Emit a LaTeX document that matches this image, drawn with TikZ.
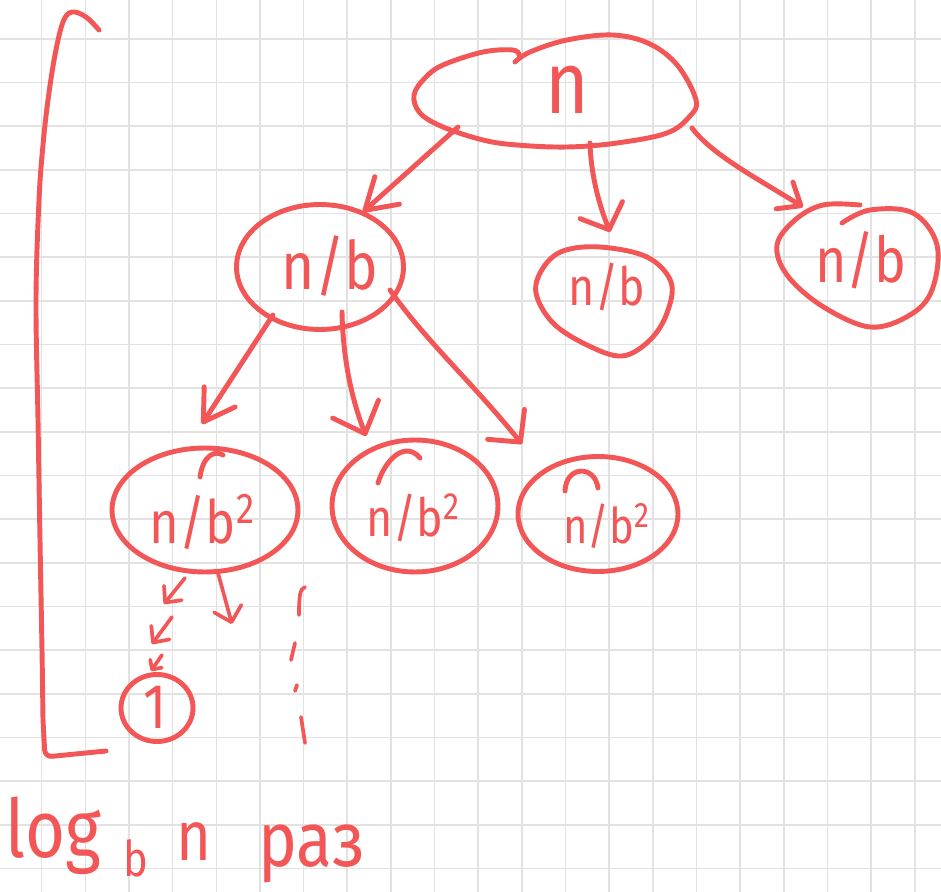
\documentclass[tikz,border=0pt]{standalone}
\usepackage{fontspec}
\setmainfont{Fira Sans}
\newfontfamily\hand[FakeStretch=0.85]{Fira Sans}
\usetikzlibrary{arrows.meta,shapes.geometric,calc}
\definecolor{inkred}{HTML}{F25656}
\definecolor{gridgray}{HTML}{E2E2E2}
% raised "2" of the exponent
\newcommand\sqr{\raisebox{0.32em}{\scalebox{0.72}{2}}}
\newcommand\fs[1]{\hand\fontsize{#1pt}{#1pt}\selectfont}

\begin{document}
\begin{tikzpicture}[x=0.02cm,y=-0.02cm,
  ink/.style={draw=inkred, line width=2.8pt, line cap=round, line join=round},
  thin ink/.style={ink, line width=2.1pt},
  blob/.style={ellipse, ink, inner sep=0pt},
  holder/.style={ellipse, draw=none, inner sep=0pt},
  lbl/.style={text=inkred, inner sep=0pt},
  gridline/.style={draw=gridgray, line width=0.9pt},
  hd/.style 2 args={-{Straight Barb[length=#1,width=#2,round]}},
]
% paper and squared grid
\useasboundingbox (0,0) rectangle (941,892);
\fill[white] (0,0) rectangle (941,892);
\foreach \i in {1,...,21}
  \draw[gridline] ({-2+43.66*\i},0) -- ({-2+43.66*\i},892);
\foreach \j in {1,...,20}
  \draw[gridline] (0,{-4.7+43.66*\j}) -- (941,{-4.7+43.66*\j});

% ---- root n
\node[holder, minimum width=5.6cm, minimum height=2.2cm] (top) at (555,92) {};
\draw[ink] plot[smooth, tension=0.6] coordinates {
  (515,62) (530,52) (567,40) (613,35) (650,44) (678,66) (696,100)
  (690,116) (667,133) (617,143) (567,147) (517,145) (483,140) (443,127)
  (420,113) (414,95) (425,78) (443,65) (483,52) (513,50) (519,55)};
\node[lbl, font=\fs{50}] (tTop) at (567,90) {n};

% ---- level 1
\node[blob, minimum width=3.34cm, minimum height=2.5cm] (nbL) at (320,267) {};
\node[lbl, font=\fs{38}] (tNbL) at (330,266) {n/b};

\node[holder, minimum width=2.74cm, minimum height=2.16cm] (nbM) at (604,301) {};
\draw[ink] plot[smooth cycle, tension=0.6] coordinates {
  (563,251) (600,247) (647,257) (671,282) (667,313) (650,340) (622,356)
  (587,345) (553,323) (536,293) (543,268)};
\node[lbl, font=\fs{30}] (tNbM) at (607,287) {n/b};

\node[holder, minimum width=3.2cm, minimum height=2.44cm] (nbR) at (858,266) {};
\draw[ink] plot[smooth, tension=0.6] coordinates {
  (842,223) (870,210) (913,213) (937,245) (932,290) (910,315) (870,327)
  (822,306) (787,275) (777,245) (795,220) (823,205) (860,205)};
\node[lbl, font=\fs{36}] (tNbR) at (861,260) {n/b};

% ---- level 2
\node[blob, minimum width=3.72cm, minimum height=2.48cm] (n2L) at (205,510) {};
\node[lbl, font=\fs{34}] (tN2L) at (202,522) {n/b\sqr};
\node[blob, minimum width=3.32cm, minimum height=2.64cm] (n2M) at (415,506) {};
\node[lbl, font=\fs{30}] (tN2M) at (413,518) {n/b\sqr};
\node[blob, minimum width=3.2cm, minimum height=2.3cm] (n2R) at (598,514) {};
\node[lbl, font=\fs{28}] (tN2R) at (606,526) {n/b\sqr};

% pen marks on top of the level-2 outlines
\draw[ink] ($(n2L)+(-5,-33)$) .. controls ($(n2L)+(-2,-55)$) and ($(n2L)+(10,-60)$) .. ($(n2L)+(18,-55)$);
\draw[ink] ($(n2M)+(-37,-23)$) .. controls ($(n2M)+(-30,-46)$) and ($(n2M)+(-10,-66)$) .. ($(n2M)+(5,-48)$);
\draw[ink] ($(n2R)+(-33,-23)$) .. controls ($(n2R)+(-32,-49)$) and ($(n2R)+(-3,-49)$) .. ($(n2R)+(0,-26)$);

% ---- leaf 1
\node[blob, minimum width=1.44cm, minimum height=1.34cm] (one) at (157,708) {};
\node[lbl, font=\fs{36}] (tOne) at (155,707) {1};

% ---- arrows from the root
\draw[ink, hd={17pt}{21pt}] ($(top)+(-97,35)$) -- ($(nbL)+(43,-55)$);
\draw[ink, hd={12pt}{26pt}] ($(top)+(35,51)$) .. controls ($(top)+(36,85)$) and ($(top)+(45,115)$) .. ($(nbM)+(6,-69)$);
\draw[ink, hd={11pt}{18pt}] ($(top)+(137,36)$) .. controls ($(top)+(157,63)$) and ($(top)+(205,88)$) .. ($(nbR)+(-55,-59)$);

% ---- arrows from n/b
\draw[ink, hd={17pt}{21pt}] ($(nbL)+(-47,48)$) -- ($(n2L)+(-3,-86)$);
\draw[ink, hd={15pt}{28pt}] ($(nbL)+(22,45)$) .. controls ($(nbL)+(23,93)$) and ($(nbL)+(32,133)$) .. ($(n2M)+(-49,-70)$);
\draw[ink, hd={13pt}{27pt}] ($(nbL)+(70,23)$) .. controls ($(nbL)+(105,73)$) and ($(nbL)+(150,113)$) .. ($(n2R)+(-76,-70)$);

% ---- dashed descent down to 1
\draw[thin ink, hd={7pt}{13pt}] ($(n2L)+(-20,68)$) -- ($(n2L)+(-41,94)$);
\draw[thin ink, hd={7pt}{13pt}] ($(n2L)+(-33,107)$) -- ($(n2L)+(-53,134)$);
\draw[thin ink, hd={4pt}{8pt}] ($(one)+(5,-53)$) -- ($(one)+(-6,-37)$);

\coordinate (stub) at (232,624);
\draw[thin ink, hd={8pt}{16pt}] ($(n2L)+(13,63)$) -- (stub);

% dotted continuation of the other branches
\coordinate (dTop) at (305,587);
\coordinate (dBot) at (305,743);
\draw[thin ink] (dTop) .. controls (300,589) and (299,595) .. (299,615);
\draw[thin ink] (295,643) -- (291,660);
\draw[thin ink] (297,685) -- (295,691);
\draw[thin ink] (301,717) -- (dBot);

% ---- depth bracket
\draw[ink] plot[smooth, tension=0.6] coordinates {
  (99,30) (86,17) (72,12) (63,22) (55,55) (48,100) (43,145) (39,200)
  (36,300) (38,420) (40,540) (42,650) (43,720)}
  [rounded corners=0.14cm] -- (45,757) -- (106,751);

% ---- depth caption
\node[lbl, font=\fs{46}, anchor=base west] (tLog) at (5,857) {log};
\node[lbl, font=\fs{28}, anchor=base west] (tBase) at (123,876) {b};
\node[lbl, font=\fs{40}, anchor=base west] (tN) at (176,860) {n};
\node[lbl, font=\fs{44}, anchor=base west] (tTimes) at (258,866) {раз};
\end{tikzpicture}
\end{document}
